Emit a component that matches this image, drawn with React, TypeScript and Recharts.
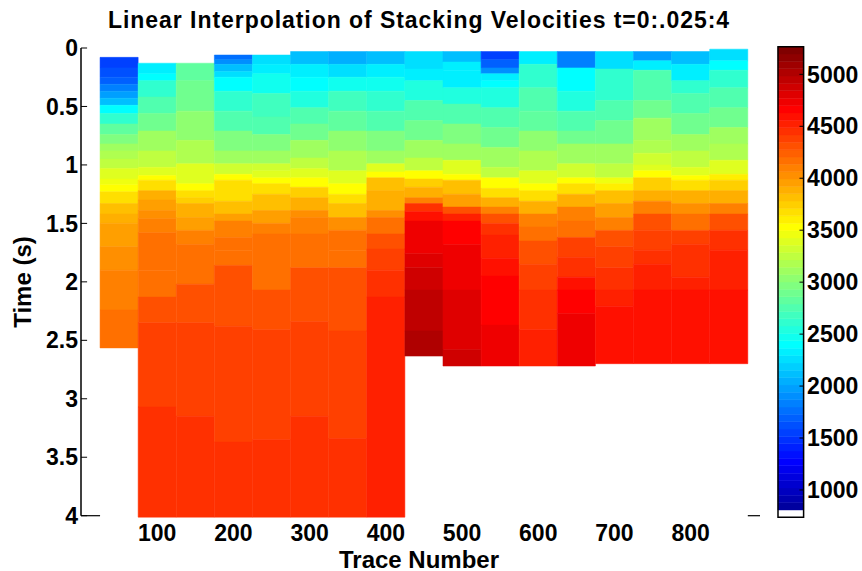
import { ComposedChart, XAxis, YAxis, ReferenceArea, ReferenceLine, Scatter } from "recharts";

// trace numbers of the velocity columns (cell width 50)
const traces = [50, 100, 150, 200, 250, 300, 350, 400, 450, 500, 550, 600, 650, 700, 750, 800, 850];

// each column: [time (s) where a colour band starts, velocity (m/s)]
const c050 = [[0.08, 1550], [0.17, 1600], [0.25, 1700], [0.31, 1820], [0.37, 1960], [0.43, 2150], [0.49, 2400], [0.56, 2620], [0.65, 2800], [0.74, 2960], [0.82, 3080], [0.88, 3160], [0.95, 3260], [1.03, 3380], [1.12, 3480], [1.17, 3540], [1.23, 3680], [1.33, 3790], [1.42, 3900], [1.5, 3990], [1.7, 4050], [1.9, 4090], [2.24, 4150]];
const c100 = [[0.13, 2330], [0.22, 2420], [0.28, 2600], [0.42, 2780], [0.56, 2900], [0.71, 3080], [0.88, 3250], [1.02, 3420], [1.09, 3530], [1.13, 3700], [1.22, 3890], [1.3, 3990], [1.39, 4060], [1.46, 4130], [1.58, 4170], [1.9, 4200], [2.13, 4290], [2.35, 4360], [3.07, 4440]];
const c150 = [[0.13, 2800], [0.28, 2900], [0.54, 3020], [0.79, 3180], [0.99, 3360], [1.16, 3530], [1.22, 3680], [1.28, 3760], [1.33, 3870], [1.45, 3990], [1.56, 4110], [1.68, 4200], [2.02, 4290], [2.35, 4360], [3.15, 4440]];
const c200 = [[0.06, 1750], [0.1, 1900], [0.14, 2100], [0.2, 2250], [0.25, 2400], [0.37, 2600], [0.54, 2780], [0.71, 2960], [0.88, 3140], [0.99, 3300], [1.08, 3530], [1.13, 3700], [1.31, 3850], [1.42, 3990], [1.48, 4100], [1.62, 4170], [1.73, 4200], [1.86, 4290], [2.38, 4360], [3.37, 4440]];
const c250 = [[0.06, 2250], [0.14, 2300], [0.22, 2500], [0.39, 2650], [0.59, 2780], [0.74, 2960], [0.88, 3080], [0.99, 3300], [1.05, 3420], [1.11, 3530], [1.16, 3680], [1.25, 3800], [1.39, 3950], [1.5, 4100], [1.59, 4200], [2.07, 4290], [2.41, 4360], [3.35, 4440]];
const c300 = [[0.03, 2150], [0.14, 2300], [0.25, 2400], [0.37, 2550], [0.51, 2720], [0.65, 2900], [0.79, 3080], [0.94, 3250], [1.03, 3380], [1.11, 3530], [1.19, 3750], [1.28, 3910], [1.39, 4060], [1.45, 4130], [1.59, 4200], [1.88, 4290], [2.34, 4360], [3.15, 4440]];
const c350 = [[0.03, 2050], [0.14, 2250], [0.25, 2480], [0.37, 2650], [0.54, 2830], [0.71, 3010], [0.88, 3200], [1.05, 3420], [1.16, 3530], [1.25, 3690], [1.33, 3850], [1.45, 4050], [1.56, 4170], [1.73, 4200], [1.88, 4290], [2.42, 4360], [3.34, 4440]];
const c400 = [[0.03, 2150], [0.14, 2350], [0.25, 2480], [0.37, 2600], [0.54, 2780], [0.71, 2960], [0.88, 3140], [0.99, 3380], [1.06, 3530], [1.11, 3820], [1.22, 3910], [1.39, 4000], [1.45, 4170], [1.59, 4290], [1.72, 4360], [1.9, 4440], [2.13, 4520]];
const c450 = [[0.03, 2250], [0.18, 2350], [0.28, 2550], [0.45, 2720], [0.62, 2900], [0.79, 3080], [0.94, 3250], [1.05, 3500], [1.12, 3760], [1.19, 3910], [1.28, 4130], [1.33, 4440], [1.4, 4590], [1.48, 4750], [1.76, 4830], [1.88, 4900], [2.07, 4950], [2.42, 5020]];
const c500 = [[0.03, 2150], [0.12, 2300], [0.19, 2350], [0.34, 2550], [0.48, 2720], [0.65, 2960], [0.82, 3140], [0.96, 3380], [1.08, 3530], [1.13, 3850], [1.25, 3990], [1.36, 4290], [1.42, 4520], [1.48, 4660], [1.68, 4750], [2.07, 4830], [2.58, 4900]];
const c550 = [[0.03, 1550], [0.1, 1700], [0.17, 1900], [0.22, 2300], [0.28, 2400], [0.34, 2550], [0.51, 2720], [0.68, 2900], [0.85, 3080], [1.02, 3250], [1.11, 3500], [1.2, 3700], [1.28, 3900], [1.36, 4100], [1.42, 4290], [1.5, 4440], [1.6, 4520], [1.8, 4590], [1.95, 4660], [2.37, 4750]];
const c600 = [[0.03, 2300], [0.14, 2600], [0.34, 2720], [0.54, 2830], [0.71, 3010], [0.88, 3200], [1.05, 3420], [1.16, 3530], [1.22, 3690], [1.31, 3910], [1.42, 4100], [1.53, 4200], [1.65, 4290], [1.85, 4360], [2.07, 4440], [2.41, 4520]];
const c650 = [[0.03, 1850], [0.17, 2380], [0.37, 2550], [0.54, 2720], [0.71, 2900], [0.82, 3080], [0.99, 3300], [1.11, 3530], [1.16, 3690], [1.25, 3910], [1.36, 4100], [1.48, 4200], [1.62, 4360], [1.79, 4440], [1.96, 4590], [2.07, 4660], [2.27, 4750]];
const c700 = [[0.03, 2250], [0.18, 2600], [0.45, 2720], [0.62, 2900], [0.82, 3080], [0.99, 3250], [1.11, 3480], [1.16, 3600], [1.22, 3850], [1.33, 3990], [1.45, 4130], [1.56, 4290], [1.7, 4360], [1.88, 4440], [2.07, 4520], [2.21, 4590]];
const c750 = [[0.03, 2000], [0.11, 2300], [0.19, 2780], [0.45, 2900], [0.6, 3080], [0.79, 3200], [0.9, 3300], [1.0, 3420], [1.05, 3530], [1.11, 3760], [1.22, 3910], [1.31, 4130], [1.42, 4290], [1.56, 4360], [1.73, 4440], [1.85, 4520], [2.07, 4590]];
const c800 = [[0.03, 2150], [0.14, 2350], [0.28, 2600], [0.39, 2780], [0.56, 2900], [0.74, 3080], [0.88, 3250], [1.02, 3420], [1.09, 3530], [1.13, 3690], [1.22, 3910], [1.33, 4060], [1.42, 4200], [1.56, 4360], [1.68, 4440], [1.96, 4520], [2.07, 4590]];
const c850 = [[0.01, 2250], [0.11, 2400], [0.19, 2600], [0.34, 2720], [0.51, 2900], [0.68, 3080], [0.82, 3200], [0.96, 3380], [1.08, 3600], [1.13, 3760], [1.22, 3910], [1.33, 4130], [1.42, 4290], [1.56, 4440], [1.73, 4520], [2.07, 4590]];

const columns = [c050, c100, c150, c200, c250, c300, c350, c400, c450, c500, c550, c600, c650, c700, c750, c800, c850];
// last time of each column (below is empty / white)
const bottoms = [2.565, 4.0125, 4.0125, 4.0125, 4.0125, 4.0125, 4.0125, 4.0125, 2.635, 2.72, 2.72, 2.72, 2.72, 2.7, 2.7, 2.7, 2.7];

const timeTicks = [0, 0.5, 1, 1.5, 2, 2.5, 3, 3.5, 4];
const traceTicks = [100, 200, 300, 400, 500, 600, 700, 800];
const velTicks = [1000, 1500, 2000, 2500, 3000, 3500, 4000, 4500, 5000];

const CLIM = [737, 5266];
const NC = 64;
const FONT = "'Liberation Sans', Arial, Helvetica, sans-serif";

// matlab jet(64), first entry white
const u = (j: number) => (j < 1 || j > 47 ? 0 : j <= 16 ? j / 16 : j <= 31 ? 1 : (48 - j) / 16);
const cmap = Array.from({ length: NC }, (_, i) => {
  const k = i + 1;
  if (k === 1) return "#ffffff";
  const r = Math.round(u(k - 24) * 255);
  const g = Math.round(u(k - 8) * 255);
  const b = Math.round(u(k + 8) * 255);
  return `rgb(${r},${g},${b})`;
});

const velColor = (v: number) => {
  const k = Math.floor(((v - CLIM[0]) / (CLIM[1] - CLIM[0])) * NC) + 1;
  return cmap[Math.min(NC, Math.max(1, k)) - 1];
};

const cells = columns.flatMap((col, j) =>
  col.map(([t, v], i) => ({
    x1: traces[j] - 25,
    x2: traces[j] + 25,
    y1: t,
    y2: i + 1 < col.length ? col[i + 1][0] : bottoms[j],
    fill: velColor(v),
  }))
);

const binW = (CLIM[1] - CLIM[0]) / NC;
const bins = cmap.map((c, i) => ({ lo: CLIM[0] + i * binW, hi: CLIM[0] + (i + 1) * binW, c }));

const tickStyle = { fill: "#000", fontSize: 23, fontWeight: "bold", fontFamily: FONT };

export default function App() {
  return (
    <div style={{ position: "absolute", left: 0, top: 0, width: 862, height: 571, background: "#fff", fontFamily: FONT }}>
      <div style={{ position: "absolute", left: 419, top: 8.5, transform: "translateX(-50%)", whiteSpace: "nowrap", fontSize: 23, lineHeight: "23px", fontWeight: "bold", letterSpacing: 0.95 }}>
        Linear Interpolation of Stacking Velocities t=0:.025:4
      </div>

      <div style={{ position: "absolute", left: 0, top: 0 }}>
        <ComposedChart width={862} height={571} margin={{ top: 48, right: 102, bottom: 0, left: 0 }}>
          <XAxis
            type="number"
            dataKey="x"
            domain={[0, 891]}
            allowDataOverflow
            ticks={traceTicks}
            axisLine={false}
            tickLine={false}
            tickSize={0}
            tickMargin={9}
            height={55.3}
            tick={tickStyle}
          />
          <YAxis
            type="number"
            dataKey="y"
            domain={[0, 4]}
            allowDataOverflow
            reversed
            ticks={timeTicks}
            width={81}
            tickSize={0}
            tickMargin={3}
            tickLine={false}
            axisLine={{ stroke: "#000", strokeWidth: 1.5 }}
            tick={tickStyle}
          />
          {cells.map((c, i) => (
            <ReferenceArea
              key={i}
              x1={c.x1}
              x2={c.x2}
              y1={c.y1}
              y2={c.y2}
              fill={c.fill}
              fillOpacity={1}
              stroke={c.fill}
              strokeWidth={0.5}
              ifOverflow="visible"
            />
          ))}
          {timeTicks.map((t) => (
            <ReferenceLine key={t} segment={[{ x: 0, y: t }, { x: 8, y: t }]} stroke="#000" strokeWidth={1} ifOverflow="visible" />
          ))}
          <ReferenceLine segment={[{ x: 0, y: 4 }, { x: 25, y: 4 }]} stroke="#000" strokeWidth={1.2} ifOverflow="visible" />
          <ReferenceLine segment={[{ x: 875, y: 4 }, { x: 891, y: 4 }]} stroke="#000" strokeWidth={1.2} ifOverflow="visible" />
          <Scatter
            data={traces.map((x, j) => ({ x, y: columns[j][0][0] }))}
            fill="none"
            isAnimationActive={false}
          />
        </ComposedChart>
      </div>

      <div style={{ position: "absolute", left: 760, top: 0 }}>
        <ComposedChart width={102} height={571} margin={{ top: 46.7, right: 0, bottom: 53.7, left: 18 }}>
          <XAxis type="number" dataKey="x" domain={[0, 1]} hide />
          <YAxis
            type="number"
            dataKey="y"
            orientation="right"
            domain={CLIM}
            allowDataOverflow
            ticks={velTicks}
            width={58.4}
            tickSize={0}
            tickMargin={3.5}
            tickLine={false}
            axisLine={false}
            tick={tickStyle}
          />
          {bins.map((b, i) => (
            <ReferenceArea key={i} x1={0} x2={1} y1={b.lo} y2={b.hi} fill={b.c} fillOpacity={1} stroke={b.c} strokeWidth={0.5} />
          ))}
          {velTicks.map((v) => (
            <ReferenceLine key={v} segment={[{ x: 0.84, y: v }, { x: 1, y: v }]} stroke="#000" strokeWidth={1} />
          ))}
          <ReferenceArea x1={0} x2={1} y1={CLIM[0]} y2={CLIM[1]} fill="none" stroke="#000" strokeWidth={1.5} />
          <Scatter data={bins.map((b) => ({ x: 0.5, y: (b.lo + b.hi) / 2 }))} fill="none" isAnimationActive={false} />
        </ComposedChart>
      </div>

      <div style={{ position: "absolute", left: 419, top: 547.5, transform: "translateX(-50%)", whiteSpace: "nowrap", fontSize: 24, lineHeight: "24px", fontWeight: "bold" }}>
        Trace Number
      </div>
      <div style={{ position: "absolute", left: 22.5, top: 281.5, transform: "translate(-50%, -50%) rotate(-90deg)", whiteSpace: "nowrap", fontSize: 24, lineHeight: "24px", fontWeight: "bold" }}>
        Time (s)
      </div>
    </div>
  );
}
